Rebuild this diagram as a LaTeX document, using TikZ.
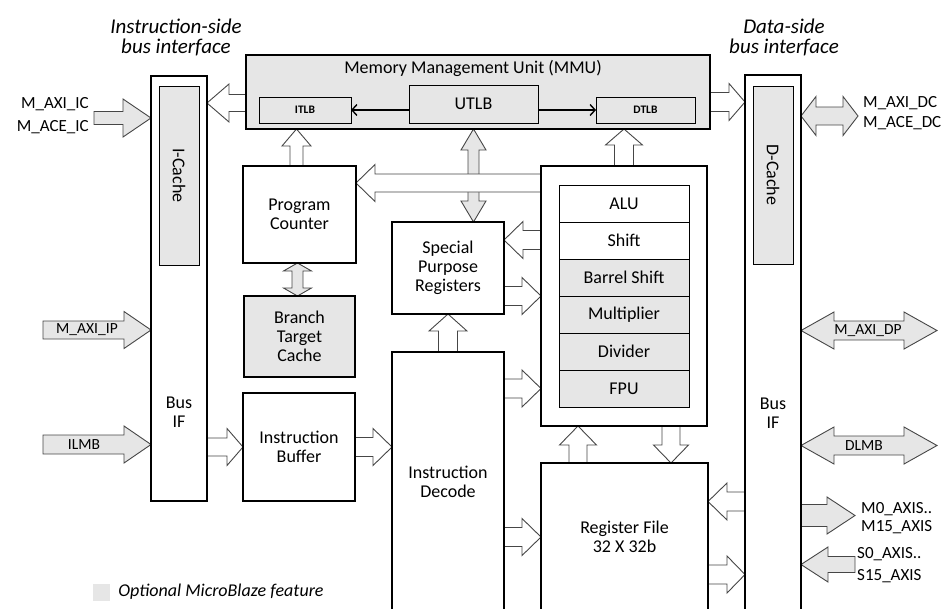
\documentclass[tikz,border=0pt]{standalone}
\usepackage{fontspec}
\setmainfont{Carlito}
\usepackage{graphicx}
\usetikzlibrary{arrows.meta,positioning,calc,backgrounds}
\definecolor{optgray}{RGB}{230,230,230}
\definecolor{edgegray}{RGB}{70,70,70}

\newcommand{\lbl}{\fontsize{18}{19}\selectfont}
\newcommand{\tlbfont}{\fontsize{11.5}{12}\selectfont\bfseries}
\newcommand{\hdrfont}{\fontsize{21}{20}\selectfont\itshape}
\newcommand{\siglbl}{\fontsize{17}{20}\selectfont}
\newcommand{\insigfont}{\fontsize{15.5}{16}\selectfont}

% block arrow settings
\pgfkeys{/blk/.cd, shaft/.store in=\arshaft, head/.store in=\arhead,
  len/.store in=\arlen, fill/.store in=\arfill}
\pgfkeys{/blk/.cd, shaft=9pt, head=18.5pt, len=18pt, fill=white}

% horizontal block arrow: y of #2, from x of #2 to x of #3
\newcommand{\harrow}[3][]{%
  \begingroup\pgfqkeys{/blk}{#1}%
  \path[blkline, fill=\arfill] let \p1=(#2), \p2=(#3), \n1={ifthenelse(\x2>\x1,1,-1)} in
    (\x1,{\y1+\arshaft}) -- ({\x2-(\n1)*\arlen},{\y1+\arshaft}) -- ({\x2-(\n1)*\arlen},{\y1+\arhead})
    -- (\x2,\y1) -- ({\x2-(\n1)*\arlen},{\y1-\arhead}) -- ({\x2-(\n1)*\arlen},{\y1-\arshaft})
    -- (\x1,{\y1-\arshaft}) -- cycle;%
  \endgroup}
% vertical block arrow: x of #2, from y of #2 to y of #3
\newcommand{\varrow}[3][]{%
  \begingroup\pgfqkeys{/blk}{#1}%
  \path[blkline, fill=\arfill] let \p1=(#2), \p2=(#3), \n1={ifthenelse(\y2>\y1,1,-1)} in
    ({\x1+\arshaft},\y1) -- ({\x1+\arshaft},{\y2-(\n1)*\arlen}) -- ({\x1+\arhead},{\y2-(\n1)*\arlen})
    -- (\x1,\y2) -- ({\x1-\arhead},{\y2-(\n1)*\arlen}) -- ({\x1-\arshaft},{\y2-(\n1)*\arlen})
    -- ({\x1-\arshaft},\y1) -- cycle;%
  \endgroup}
% double-headed versions
\newcommand{\hdarrow}[3][]{%
  \begingroup\pgfqkeys{/blk}{#1}%
  \path[blkline, fill=\arfill] let \p1=(#2), \p2=(#3), \n1={ifthenelse(\x2>\x1,1,-1)} in
    (\x1,\y1) -- ({\x1+(\n1)*\arlen},{\y1+\arhead}) -- ({\x1+(\n1)*\arlen},{\y1+\arshaft})
    -- ({\x2-(\n1)*\arlen},{\y1+\arshaft}) -- ({\x2-(\n1)*\arlen},{\y1+\arhead}) -- (\x2,\y1)
    -- ({\x2-(\n1)*\arlen},{\y1-\arhead}) -- ({\x2-(\n1)*\arlen},{\y1-\arshaft})
    -- ({\x1+(\n1)*\arlen},{\y1-\arshaft}) -- ({\x1+(\n1)*\arlen},{\y1-\arhead}) -- cycle;%
  \endgroup}
\newcommand{\vdarrow}[3][]{%
  \begingroup\pgfqkeys{/blk}{#1}%
  \path[blkline, fill=\arfill] let \p1=(#2), \p2=(#3), \n1={ifthenelse(\y2>\y1,1,-1)} in
    (\x1,\y1) -- ({\x1+\arhead},{\y1+(\n1)*\arlen}) -- ({\x1+\arshaft},{\y1+(\n1)*\arlen})
    -- ({\x1+\arshaft},{\y2-(\n1)*\arlen}) -- ({\x1+\arhead},{\y2-(\n1)*\arlen}) -- (\x1,\y2)
    -- ({\x1-\arhead},{\y2-(\n1)*\arlen}) -- ({\x1-\arshaft},{\y2-(\n1)*\arlen})
    -- ({\x1-\arshaft},{\y1+(\n1)*\arlen}) -- ({\x1-\arhead},{\y1+(\n1)*\arlen}) -- cycle;%
  \endgroup}

\begin{document}
\begin{tikzpicture}[
  x=1pt, y=-1pt,
  wh/.style 2 args={minimum width=#1pt, minimum height=#2pt},
  blkbox/.style={draw, line width=2pt, inner sep=0pt, outer sep=0pt, anchor=north west, align=center, font=\lbl},
  optbox/.style={blkbox, fill=optgray},
  subbox/.style={draw, line width=0.9pt, fill=optgray, inner sep=0pt, outer sep=0pt, anchor=north west, align=center},
  blkline/.style={draw=edgegray, line width=0.9pt, line join=miter},
  tlbarrow/.style={-{Straight Barb[length=5pt,width=11pt]}, line width=1.4pt},
  sig/.style={font=\siglbl, inner sep=0pt},
]
\useasboundingbox (0,0) rectangle (949,608);
\clip (0,0) rectangle (949,608);

% bus interfaces
\node[blkbox, wh={56}{425}] (isbus) at (151,76) {};
\node[subbox, wh={40}{179}, font=\lbl] (icache) at (159,86) {\rotatebox{-90}{I-Cache}};
\node[blkbox, wh={56}{560}] (dsbus) at (745,75) {};
\node[subbox, wh={40}{178}, font=\lbl] (dcache) at (753,86) {\rotatebox{-90}{D-Cache}};
\node[font=\lbl, align=center] (isbusif) at (179,412) {Bus\\IF};
\node[font=\lbl, align=center] (dsbusif) at (773,413) {Bus\\IF};
\node[font=\hdrfont, align=center] (ishdr) at (176,37) {Instruction-side\\bus interface};
\node[font=\hdrfont, align=center] (dshdr) at (784,37) {Data-side\\bus interface};

% MMU
\node[optbox, wh={464}{74}] (mmu) at (246,55) {};
\node[font=\lbl] (mmutitle) at (473,68) {Memory Management Unit (MMU)};
\node[subbox, wh={92}{26}, font=\tlbfont] (itlb) at (259,97) {ITLB};
\node[subbox, wh={129}{38}, font=\lbl] (utlb) at (409,85) {UTLB};
\node[subbox, wh={99}{26}, font=\tlbfont] (dtlb) at (596,97) {DTLB};
\draw[tlbarrow] (utlb.west |- itlb.east) -- (itlb.east);
\draw[tlbarrow] (utlb.east |- dtlb.west) -- (dtlb.west);

% pipeline
\node[blkbox, wh={113}{97}] (pc) at (243,166) {Program\\Counter};
\node[optbox, wh={111}{81}] (btc) at (244,296) {Branch\\Target\\Cache};
\node[blkbox, wh={112}{108}] (ibuf) at (243,393) {Instruction\\Buffer};
\node[blkbox, wh={112}{92}] (spr) at (392,222) {Special\\Purpose\\Registers};
\node[blkbox, wh={112}{260}] (idec) at (392,352) {Instruction\\Decode};
\node[blkbox, wh={166}{260}] (exu) at (541,166) {};
\foreach \u/\f [count=\i from 0] in {ALU/white, Shift/white, Barrel Shift/optgray, Multiplier/optgray, Divider/optgray, FPU/optgray}
  \node[subbox, fill=\f, wh={130}{37}, font=\lbl] (unit\i) at (559,{185+37*\i}) {\u};
\node[blkbox, wh={167}{148}] (regf) at (541,463) {Register File\\32 X 32b};

% free ends of the bus arrows
\coordinate (icin) at (94,118);
\coordinate (ipin) at (43,330);
\coordinate (ilmbin) at (43,444.5);
\coordinate (dcout) at (858,116);
\coordinate (dpout) at (937,330.5);
\coordinate (dlmbout) at (937,445.5);
\coordinate (maxis) at (855,515.5);
\coordinate (saxis) at (855,564.5);

\begin{pgfonlayer}{background}
\harrow[fill=optgray, shaft=6.5pt, head=19pt, len=28pt]{icin}{isbus.west}
\harrow[fill=optgray, len=27pt]{ipin}{isbus.west}
\harrow[fill=optgray, shaft=9.5pt, len=27pt]{ilmbin}{isbus.west}
\harrow[shaft=8.5pt, head=19pt, len=22pt]{$(mmu.west)+(0,11)$}{isbus.east}
\varrow[shaft=6.5pt, head=14.5pt, len=17pt]{$(pc.north)+(-3,0)$}{mmu.south}
\vdarrow[fill=optgray, shaft=5.5pt, head=12.5pt, len=21pt]{utlb.south |- mmu.south}{spr.north}
\harrow[len=19pt]{$(exu.north west)+(0,17)$}{pc.east}
\varrow[shaft=9.5pt, len=16pt]{exu.north}{mmu.south}
\harrow[shaft=9.5pt, len=16pt]{$(mmu.east)+(0,10)$}{dsbus.west}
\hdarrow[fill=optgray, head=19.5pt, len=15pt]{dsbus.east |- dcout}{dcout}
\harrow[len=16pt]{isbus.east |- ibuf.west}{ibuf.west}
\vdarrow[fill=optgray, shaft=5.5pt, head=14pt, len=8pt]{$(pc.south)+(-2,0)$}{btc.north}
\harrow[shaft=9.5pt, len=19pt]{ibuf.east}{idec.west}
\harrow[shaft=9.5pt, len=19pt]{$(exu.north west)+(0,74)$}{spr.east}
\harrow[shaft=9.5pt, len=19pt]{spr.east |- exu.west}{exu.west}
\varrow[shaft=9.5pt, head=19pt, len=17pt]{idec.north}{spr.south}
\harrow[shaft=9.5pt, len=19pt]{$(idec.north east)+(0,36.5)$}{exu.west}
\varrow[len=19pt]{$(regf.north)+(-46.5,0)$}{exu.south}
\varrow[head=17.5pt]{$(exu.south)+(47,0)$}{regf.north}
\harrow[shaft=9.5pt, len=19pt]{idec.east |- regf.west}{regf.west}
\harrow[shaft=9.5pt, len=19pt]{$(dsbus.west |- regf.north east)+(0,38.5)$}{regf.east}
\harrow[shaft=9.5pt]{$(regf.north east)+(0,111.5)$}{dsbus.west}
\hdarrow[fill=optgray, shaft=9.5pt, len=33pt]{dsbus.east |- dpout}{dpout}
\hdarrow[fill=optgray, shaft=9.5pt, len=33pt]{dsbus.east |- dlmbout}{dlmbout}
\harrow[fill=optgray, shaft=11pt, len=28pt]{dsbus.east |- maxis}{maxis}
\harrow[fill=optgray, shaft=8pt, head=17.5pt, len=27pt]{saxis}{dsbus.east}
\end{pgfonlayer}

% bus signal names
\node[font=\insigfont] (ipl) at (87,330) {M\_AXI\_IP};
\node[font=\insigfont] (ilmbl) at (84,445) {ILMB};
\node[font=\insigfont] (dpl) at (868,331) {M\_AXI\_DP};
\node[font=\insigfont] (dlmbl) at (864,446) {DLMB};
\node[sig, anchor=east, align=right] (icl) at (89,116) {M\_AXI\_IC\\[3pt]M\_ACE\_IC};
\node[sig, anchor=west, align=left] (dcl) at (863,113) {M\_AXI\_DC\\M\_ACE\_DC};
\node[sig, anchor=west, align=left] (maxisl) at (861,518) {M0\_AXIS..\\[-2pt]M15\_AXIS};
\node[sig, anchor=west, align=left] (saxisl) at (857,565) {S0\_AXIS..\\[2pt]S15\_AXIS};

% legend
\node[fill=optgray, minimum size=17pt, inner sep=0pt] (swatch) at (101.5,592) {};
\node[font=\lbl\itshape, right=8pt of swatch, inner sep=0pt] (legend) {Optional MicroBlaze feature};
\end{tikzpicture}
\end{document}
